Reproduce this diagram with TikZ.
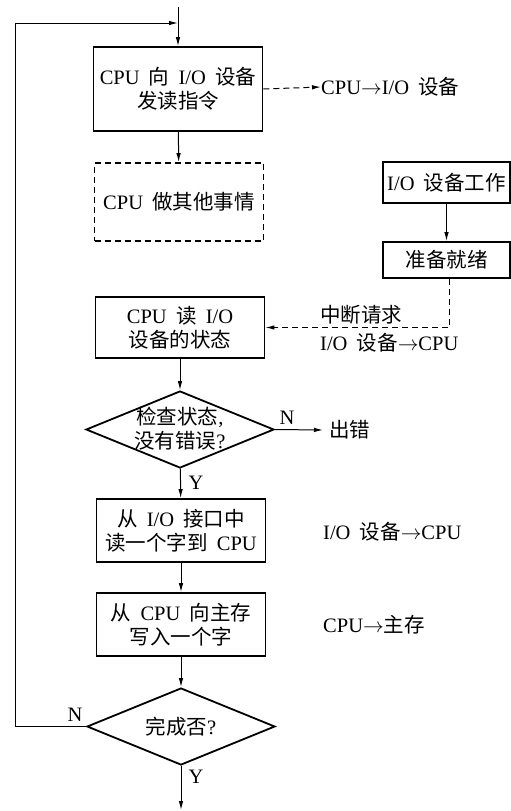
\documentclass[tikz,border=0pt]{standalone}
\usepackage{fontspec}
\setmainfont{Liberation Serif}
\newfontfamily\cjk{Noto Sans CJK SC}
\newcommand\zh[1]{{\cjk #1}}
\newcommand\ra{\(\rightarrow\)}
\newcommand\gap{\hspace{0.45em}}
\usetikzlibrary{arrows.meta,shapes.geometric}
\begin{document}
\begin{tikzpicture}[x=1pt,y=-1pt,
  font=\fontsize{20.5}{24}\selectfont,
  box/.style={draw,line width=1.8pt,minimum width=169pt,inner sep=0pt,align=center},
  diam/.style={draw,diamond,line width=1.8pt,inner sep=0pt,minimum width=188pt,minimum height=77pt},
  txt/.style={inner sep=0pt,align=center},
  arr/.style={line width=1pt,-{Latex[length=9pt,width=4.5pt]}},
  dsh/.style={dash pattern=on 6pt off 4pt}
]
\useasboundingbox (0,0) rectangle (511,811);
% main column
\node[box,minimum height=84pt] (b1) at (178,89) {CPU\gap\zh{向}\gap I/O\gap\zh{设备}\\\zh{发读指令}};
\node[box,dsh,minimum height=78pt] (b2) at (179,202) {CPU\gap\zh{做其他事情}};
\node[box,minimum height=61pt] (b3) at (180,327.5) {CPU\gap\zh{读}\gap I/O\\\zh{设备的状态}};
\node[diam] (d1) at (180,429.5) {};
\node[txt] (d1t) at (180,429) {\zh{检查状态},\\\zh{没有错误}?};
\node[box,minimum height=63pt] (b4) at (181,530.5) {\zh{从}\gap I/O\gap\zh{接口中}\\\zh{读一个字到}\gap CPU};
\node[box,minimum height=63pt] (b5) at (181,624.5) {\zh{从}\gap CPU\gap\zh{向主存}\\\zh{写入一个字}};
\node[diam] (d2) at (181,726.5) {};
\node[txt] (d2t) at (181,726.5) {\zh{完成否}?};
% right column
\node[box,minimum width=127pt,minimum height=41pt] (io) at (446.5,182.5) {I/O\gap\zh{设备工作}};
\node[box,minimum width=127pt,minimum height=36pt] (rdy) at (446.5,260) {\zh{准备就绪}};
% labels
\node[txt,anchor=west] (l1) at (321,87) {CPU\ra I/O\gap\zh{设备}};
\node[txt,anchor=west] (l2) at (320,315) {\zh{中断请求}};
\node[txt,anchor=west] (l3) at (320,343) {I/O\gap\zh{设备}\ra CPU};
\node[txt,anchor=west] (err) at (329,430) {\zh{出错}};
\node[txt,anchor=west] (l4) at (323,532) {I/O\gap\zh{设备}\ra CPU};
\node[txt,anchor=west] (l5) at (323,625) {CPU\ra\zh{主存}};
\node[txt] (n1) at (287,418) {N};
\node[txt] (y1) at (196,483) {Y};
\node[txt] (n2) at (75,715) {N};
\node[txt] (y2) at (196,777) {Y};
% coordinates
\coordinate (top) at (178,7);
\coordinate (join) at (178,23);
\coordinate (lx) at (15,23);
\coordinate (bot) at (181,810);
% connectors
\draw[arr] (top) -- (b1.north);
\draw[arr] (b1) -- (b2);
\draw[arr,dsh] (b1.east) -- (l1.west);
\draw[arr] (io) -- (rdy);
\draw[arr,dsh] ([xshift=3pt]rdy.south) |- (b3.east);
\draw[arr] (b3) -- (d1);
\draw[arr] (d1.east) -- ([xshift=-6pt]err.west);
\draw[arr] (d1) -- (b4);
\draw[arr] (b4) -- (b5);
\draw[arr] (b5) -- (d2);
\draw[arr] (d2.south) -- (bot);
\draw[arr] (d2.west) -| (lx) -- (join);
\end{tikzpicture}
\end{document}
